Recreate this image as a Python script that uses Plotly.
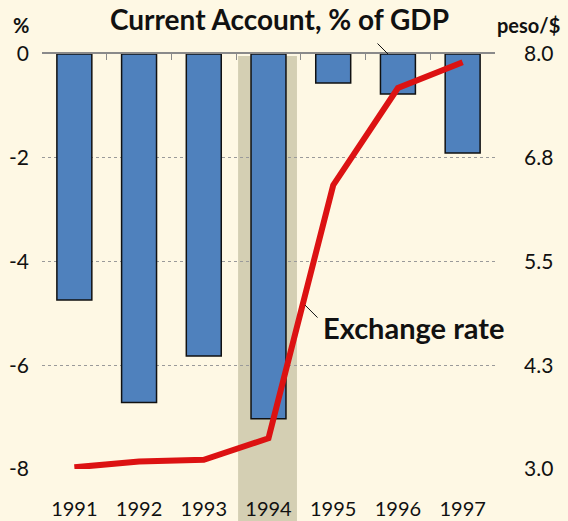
import plotly.graph_objects as go

years = ["1991", "1992", "1993", "1994", "1995", "1996", "1997"]
current_account = [-4.74, -6.72, -5.82, -7.03, -0.56, -0.77, -1.91]
exchange_rate = [3.02, 3.09, 3.11, 3.37, 6.42, 7.59, 7.90]

left_ticks = [0, -2, -4, -6, -8]
left_text = ["0", "-2", "-4", "-6", "-8"]
right_ticks = [3.0, 4.25, 5.5, 6.75, 8.0]
right_text = ["3.0", "4.3", "5.5", "6.8", "8.0"]

BG = "#FEF8E4"
FONT = "Lato"

fig = go.Figure()
fig.add_trace(go.Bar(
    x=years, y=current_account, xaxis="x", yaxis="y",
    marker=dict(color="#4F81BD", line=dict(color="#111111", width=1.5)),
    width=0.54, showlegend=False, hoverinfo="x+y",
))
fig.add_trace(go.Scatter(
    x=years, y=exchange_rate, xaxis="x2", yaxis="y2", mode="lines",
    line=dict(color="#DC1212", width=6), showlegend=False,
))

# 1994 crisis shading
fig.add_shape(type="rect", xref="x", yref="paper", x0=2.53, x1=3.44,
              y0=-0.13, y1=0.995, fillcolor="#D4CFB3", line=dict(width=0),
              layer="below")

fig.update_layout(
    width=568, height=521,
    margin=dict(l=42, r=73, t=54, b=52),
    paper_bgcolor=BG, plot_bgcolor=BG,
    font=dict(family=FONT, size=19, color="#111111"),
    xaxis=dict(type="category", range=[-0.5, 6.5], showline=False, ticks="",
               showgrid=False, ticklabelstandoff=26, automargin=False,
               tickfont=dict(family=FONT, size=20)),
    xaxis2=dict(type="category", range=[-0.5, 6.5], overlaying="x", side="top",
                anchor="y2", showline=True, linecolor="#8A8A8A", linewidth=1.5,
                ticks="inside", ticklen=6, tickcolor="#8A8A8A", tickwidth=1.2,
                tickson="boundaries", showticklabels=False, showgrid=False,
                automargin=False),
    yaxis=dict(range=[-8, 0], tickvals=left_ticks, ticktext=left_text,
               showline=False, zeroline=False, showgrid=True,
               gridcolor="#9A9A9A", griddash="dot", gridwidth=1,
               ticks="", ticklabelstandoff=12, automargin=False,
               tickfont=dict(family=FONT, size=21)),
    yaxis2=dict(range=[3, 8], overlaying="y", side="right", anchor="x",
                tickvals=right_ticks, ticktext=right_text, showgrid=False,
                zeroline=False, showline=False, ticks="", ticklabelstandoff=28,
                automargin=False, tickfont=dict(family=FONT, size=21)),
    bargap=0.46,
)

fig.add_annotation(text="Current Account, % of GDP", xref="paper", yref="paper",
                   x=0.525, y=1.084, xanchor="center", yanchor="middle",
                   showarrow=False,
                   font=dict(family=FONT, size=28, weight="bold", color="#111111"))
fig.add_annotation(text="", xref="paper", yref="paper", x=0.7638, y=1.0,
                   showarrow=True, arrowhead=0, arrowwidth=1, arrowcolor="#111111",
                   ax=-12, ay=-12)
fig.add_annotation(text="%", xref="paper", yref="paper", x=-0.046, y=1.07,
                   xanchor="center", yanchor="middle", showarrow=False,
                   font=dict(family=FONT, size=20, weight="bold", color="#111111"))
fig.add_annotation(text="peso/$", xref="paper", yref="paper", x=1.074, y=1.07,
                   xanchor="center", yanchor="middle", showarrow=False,
                   font=dict(family=FONT, size=20, weight="bold", color="#111111"))
fig.add_annotation(text="Exchange rate", xref="paper", yref="paper", x=0.616, y=0.34,
                   xanchor="left", yanchor="middle", showarrow=False,
                   font=dict(family=FONT, size=29, weight="bold", color="#111111"))
fig.add_annotation(text="", xref="paper", yref="paper", x=0.5806, y=0.395,
                   showarrow=True, arrowhead=0, arrowwidth=1, arrowcolor="#111111",
                   ax=14, ay=14)

fig.write_html("out.html",
               config={"displayModeBar": False},
               post_script="document.body.style.margin='0px';"
                           "document.body.style.padding='0px';"
                           "document.body.style.overflow='hidden';")
